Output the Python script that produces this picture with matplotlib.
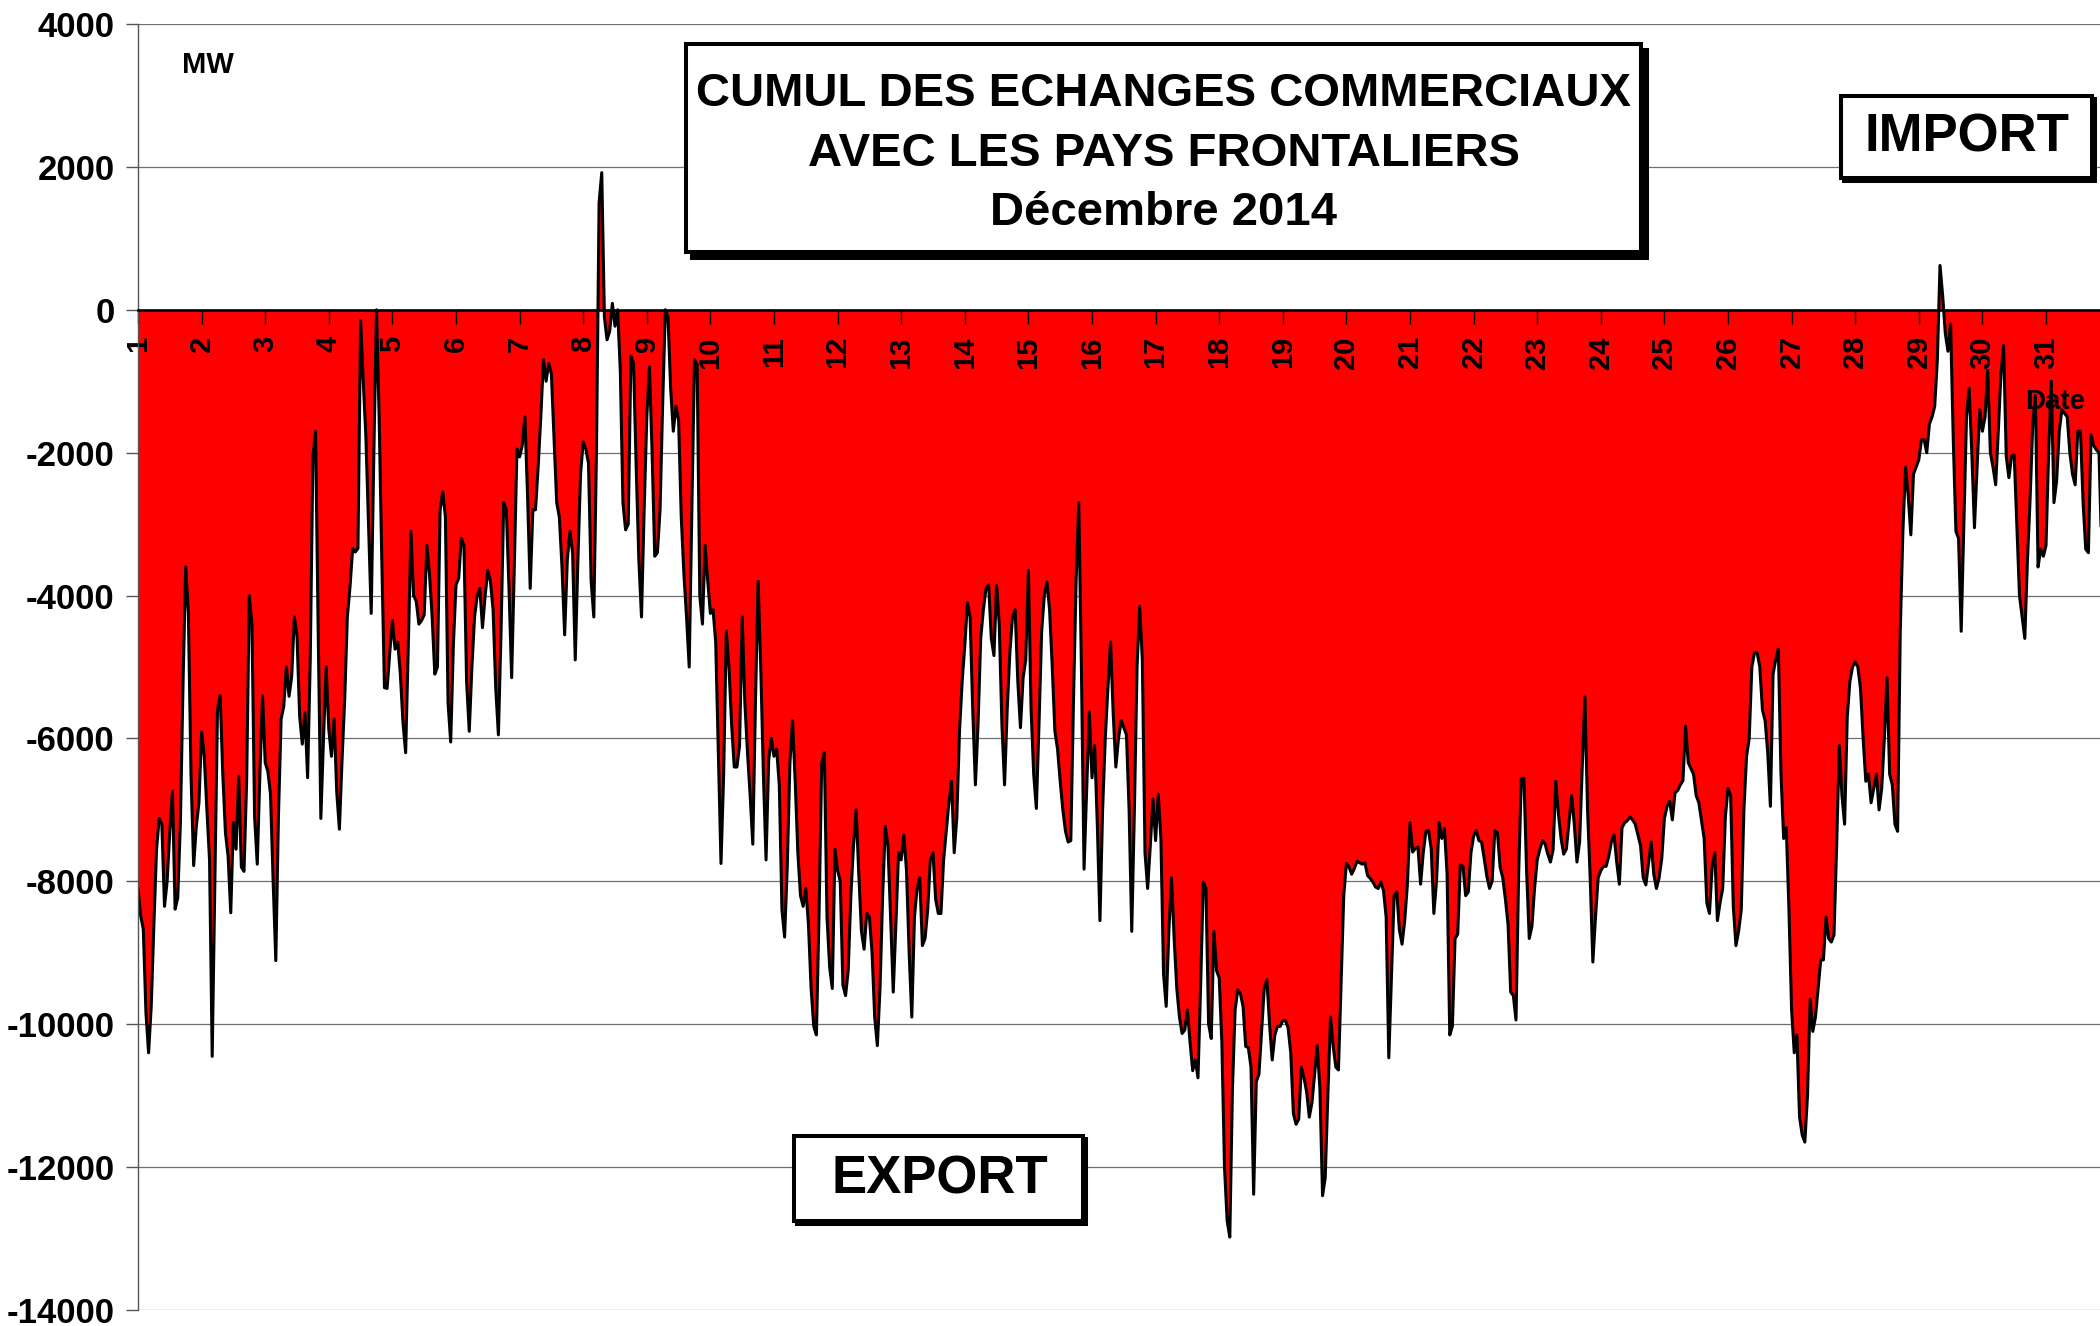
import numpy as np
import matplotlib.pyplot as plt
from matplotlib.patches import Rectangle

plt.rcParams['font.family'] = ['Liberation Sans', 'DejaVu Sans']
plt.rcParams['font.weight'] = 'bold'

# hourly balance of exchanges, MW (negative = export), one list per day of December 2014
d01 = [-8100, -8480, -8670, -9840, -10400, -9740, -8600, -7550, -7120, -7200, -8350, -8000, -7300, -6740, -8390, -8230, -7180, -5220, -3600, -4240, -6500, -7780, -7230, -6900]
d02 = [-5910, -6250, -7000, -7700, -10450, -8020, -5590, -5400, -6500, -7320, -7650, -8440, -7180, -7550, -6530, -7800, -7860, -6600, -4000, -4400, -7100, -7760, -6500, -5400]
d03 = [-6340, -6460, -6780, -8000, -9110, -7090, -5730, -5550, -5000, -5410, -5130, -4300, -4570, -5690, -6080, -5640, -6550, -4900, -2060, -1700, -4500, -7120, -6000, -5000]
d04 = [-5870, -6250, -5730, -6750, -7270, -6300, -5450, -4300, -3880, -3340, -3390, -3340, -150, -1000, -1780, -3000, -4250, -2000, 0, -1500, -3500, -5290, -5300, -4800]
d05 = [-4350, -4750, -4650, -5100, -5780, -6200, -4700, -3100, -4000, -4080, -4400, -4350, -4270, -3300, -3700, -4300, -5100, -5000, -2800, -2550, -2900, -5500, -6050, -4700]
d06 = [-3850, -3760, -3200, -3300, -5200, -5900, -5000, -4300, -4000, -3900, -4450, -4000, -3650, -3800, -4200, -5300, -5950, -4500, -2700, -2800, -3900, -5150, -3600, -1950]
d07 = [-2060, -1900, -1500, -2600, -3900, -2800, -2800, -2200, -1500, -700, -1000, -750, -900, -1800, -2700, -2900, -3600, -4550, -3500, -3100, -3400, -4900, -3500, -2300]
d08 = [-1850, -1950, -2150, -3800, -4300, -2000, 1500, 1920, -100, -420, -300, 90, -230, 0, -850, -2700, -3080, -3000, -650, -750, -2200, -3500, -4300, -2800]
d09 = [-1500, -800, -2000, -3450, -3400, -2800, -1300, 0, -100, -1100, -1700, -1350, -1550, -2900, -3700, -4300, -5000, -2800, -700, -770, -4000, -4400, -3300, -3800]
d10 = [-4250, -4200, -4650, -6200, -7750, -6500, -4500, -5000, -5800, -6400, -6400, -6100, -4300, -5500, -6200, -6800, -7480, -5500, -3800, -5000, -6500, -7700, -6300, -6000]
d11 = [-6250, -6150, -6650, -8400, -8780, -7800, -6350, -5750, -6600, -7600, -8200, -8350, -8100, -8600, -9500, -10030, -10150, -8450, -6350, -6200, -8500, -9200, -9500, -7550]
d12 = [-7850, -8000, -9450, -9600, -9250, -8200, -7500, -7000, -7900, -8700, -8950, -8450, -8500, -9000, -9900, -10300, -9500, -8200, -7230, -7500, -8500, -9550, -8600, -7600]
d13 = [-7700, -7350, -7850, -9000, -9900, -8500, -8100, -7950, -8900, -8800, -8400, -7700, -7600, -8250, -8450, -8450, -7700, -7300, -6900, -6600, -7600, -7100, -5900, -5200]
d14 = [-4700, -4100, -4300, -5600, -6650, -5800, -4600, -4200, -3900, -3850, -4600, -4840, -3860, -4400, -5800, -6650, -5600, -4800, -4300, -4200, -5200, -5850, -5150, -4900]
d15 = [-3650, -5580, -6500, -6980, -5800, -4500, -4000, -3810, -4200, -5000, -5900, -6150, -6600, -7000, -7300, -7450, -7430, -5500, -3800, -2700, -5000, -7830, -6700, -5630]
d16 = [-6550, -6100, -7200, -8550, -7000, -6000, -5300, -4650, -5650, -6400, -6000, -5750, -5850, -5950, -7000, -8700, -7000, -5000, -4150, -4900, -7600, -8100, -7500, -6850]
d17 = [-7430, -6780, -7400, -9300, -9750, -8700, -7950, -8800, -9500, -9900, -10130, -10080, -9800, -10250, -10650, -10500, -10750, -9450, -8010, -8100, -10000, -10200, -8700, -9250]
d18 = [-9350, -10250, -12000, -12750, -12980, -10900, -9800, -9520, -9570, -9750, -10310, -10330, -10600, -12380, -10800, -10700, -10100, -9500, -9380, -10000, -10500, -10150, -10030, -10030]
d19 = [-9950, -9950, -10050, -10400, -11250, -11400, -11330, -10600, -10750, -10950, -11300, -11100, -10700, -10300, -10900, -12400, -12150, -11000, -9900, -10300, -10600, -10640, -9400, -8200]
d20 = [-7750, -7800, -7900, -7820, -7720, -7740, -7760, -7740, -7920, -7960, -8010, -8080, -8100, -8010, -8130, -8500, -10470, -9350, -8200, -8150, -8680, -8880, -8550, -8050]
d21 = [-7180, -7590, -7540, -7520, -8040, -7600, -7300, -7290, -7540, -8450, -8000, -7180, -7400, -7260, -7900, -10150, -10030, -8800, -8740, -7770, -7790, -8200, -8150, -7600]
d22 = [-7370, -7290, -7430, -7450, -7680, -7930, -8100, -8000, -7290, -7320, -7800, -7950, -8250, -8600, -9550, -9600, -9940, -7900, -6560, -6560, -7850, -8800, -8630, -8100]
d23 = [-7700, -7550, -7430, -7480, -7620, -7730, -7560, -6600, -7050, -7400, -7620, -7550, -7180, -6800, -7200, -7730, -7450, -6400, -5420, -7000, -7950, -9130, -8500, -7950]
d24 = [-7850, -7790, -7790, -7650, -7450, -7350, -7730, -8040, -7250, -7180, -7150, -7100, -7140, -7200, -7350, -7500, -7950, -8050, -7750, -7450, -7900, -8100, -7950, -7680]
d25 = [-7120, -6950, -6880, -7140, -6760, -6730, -6650, -6590, -5830, -6340, -6420, -6500, -6800, -6900, -7150, -7400, -8300, -8450, -7800, -7600, -8550, -8300, -8100, -7100]
d26 = [-6700, -6800, -8350, -8900, -8700, -8400, -7000, -6250, -6000, -5000, -4800, -4800, -5000, -5600, -5750, -6200, -6950, -5100, -4900, -4750, -6500, -7400, -7250, -8400]
d27 = [-9800, -10400, -10150, -11300, -11550, -11650, -11000, -9650, -10100, -9900, -9500, -9100, -9100, -8500, -8800, -8850, -8750, -7500, -6100, -6800, -7200, -5700, -5200, -5000]
d28 = [-4930, -5000, -5300, -6000, -6600, -6500, -6900, -6700, -6500, -7000, -6700, -6000, -5150, -6500, -6650, -7200, -7300, -4500, -3100, -2200, -2600, -3150, -2300, -2200]
d29 = [-2100, -1820, -1820, -2000, -1600, -1500, -1350, -700, 620, 200, -330, -580, -200, -1800, -3100, -3200, -4500, -3000, -1500, -1100, -2000, -3050, -2200, -1400]
d30 = [-1700, -1500, -850, -2000, -2200, -2450, -1700, -900, -500, -2050, -2350, -2050, -2030, -3000, -4000, -4300, -4600, -3500, -2650, -1600, -1200, -3600, -3350, -3450]
d31 = [-3300, -2000, -1000, -2700, -2400, -1700, -1400, -1450, -1500, -2000, -2300, -2450, -1700, -1700, -2700, -3350, -3400, -1750, -1900, -1960, -2000, -3350, -3400, -3300]

days = [d01, d02, d03, d04, d05, d06, d07, d08, d09, d10, d11, d12, d13, d14, d15, d16,
        d17, d18, d19, d20, d21, d22, d23, d24, d25, d26, d27, d28, d29, d30, d31]

day_ticks = list(range(1, 32))
y_ticks = list(range(-14000, 4001, 2000))

x = np.concatenate([i + 1 + np.arange(len(d)) / len(d) for i, d in enumerate(days)])
mw = np.concatenate(days).astype(float)

W, H = 2100, 1326
fig = plt.figure(figsize=(W / 100, H / 100), dpi=100)
ax = fig.add_axes([138 / W, 16 / H, 1 - 138 / W, 1286 / H])

for v in y_ticks:
    ax.axhline(v, color='#707070', lw=0.9, zorder=0.5)

ax.fill_between(x, mw, 0, color='#ff0000', lw=0, zorder=1)
ax.plot(x, mw, color='black', lw=2.2, zorder=2)

ax.set_xlim(1, 1 + (W - 138) / 63.6)
ax.set_ylim(-14000, 4000)

ax.spines['top'].set_visible(False)
ax.spines['right'].set_visible(False)
ax.spines['bottom'].set_position(('data', 0))
ax.spines['bottom'].set_linewidth(1.9)
ax.spines['bottom'].set_zorder(3)
ax.spines['left'].set_color('#555555')
ax.spines['left'].set_linewidth(1.0)

ax.set_xticks(day_ticks)
ax.set_xticklabels([str(d) for d in day_ticks], rotation=90, fontsize=21, fontweight='bold')
ax.set_yticks(y_ticks)
ax.set_yticklabels([str(v) for v in y_ticks], fontsize=25, fontweight='bold')
ax.tick_params(axis='x', direction='out', length=10, width=1.0, pad=9)
ax.tick_params(axis='y', direction='out', length=9, width=1.0, color='#555555', pad=8)


def box(x0, y0, x1, y1, lw, shadow):
    # pixel box from the top-left corner, with a dark drop shadow
    fig.add_artist(Rectangle(((x0 + shadow) / W, 1 - (y1 + shadow) / H), (x1 - x0) / W, (y1 - y0) / H,
                             transform=fig.transFigure, facecolor='black', edgecolor='black', lw=lw))
    fig.add_artist(Rectangle((x0 / W, 1 - y1 / H), (x1 - x0) / W, (y1 - y0) / H,
                             transform=fig.transFigure, facecolor='white', edgecolor='black', lw=lw))


box(686, 44, 1641, 252, 2.9, 6)
fig.text(1164 / W, 1 - 94 / H, 'CUMUL DES ECHANGES COMMERCIAUX', ha='center', va='center', fontsize=34, fontweight='bold')
fig.text(1164 / W, 1 - 154 / H, 'AVEC LES PAYS FRONTALIERS', ha='center', va='center', fontsize=34, fontweight='bold')
fig.text(1164 / W, 1 - 213 / H, 'Décembre 2014', ha='center', va='center', fontsize=34, fontweight='bold')

box(1841, 96, 2092, 178, 2.9, 3)
fig.text(1967 / W, 1 - 138 / H, 'IMPORT', ha='center', va='center', fontsize=38, fontweight='bold')

box(794, 1136, 1083, 1221, 2.9, 3)
fig.text(940 / W, 1 - 1179 / H, 'EXPORT', ha='center', va='center', fontsize=38, fontweight='bold')

fig.text(208 / W, 1 - 65 / H, 'MW', ha='center', va='center', fontsize=21, fontweight='bold')
fig.text(2055 / W, 1 - 402 / H, 'Date', ha='center', va='center', fontsize=20, fontweight='bold')

fig.savefig('out.png', dpi=100)
